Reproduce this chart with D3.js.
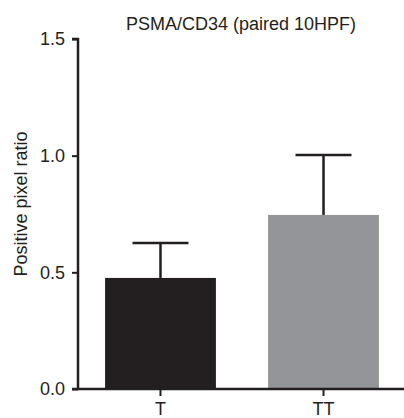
<!DOCTYPE html>
<html>
<head>
<meta charset="utf-8">
<script src="https://cdn.jsdelivr.net/npm/d3@7"></script>
<style>
  body { margin: 0; background: #fff; }
  svg { display: block; font-family: "Liberation Sans", Arial, sans-serif; }
</style>
</head>
<body>
<svg width="404" height="418"></svg>
<script>
const groups = ['T', 'TT'];
const means = [0.476, 0.746];
const errors = [0.150, 0.257];
const barColors = ['#231f20', '#939598'];
const yTicks = [0.0, 0.5, 1.0, 1.5];

const svg = d3.select('svg');
const ink = '#231f20';
const fs = 18;

// plot area: y axis at x=78, 0.0 at y=389, 1.5 at y=39
const x = d3.scaleBand().domain(groups).range([78, 406]).paddingInner(0.32).paddingOuter(0.166);
const y = d3.scaleLinear().domain([0, 1.5]).range([389, 39]);

const g = svg.append('g');

// bars
g.selectAll('.bar')
  .data(groups)
  .enter()
  .append('rect')
  .classed('bar', true)
  .attr('x', d => x(d))
  .attr('width', x.bandwidth())
  .attr('y', (d, i) => y(means[i]))
  .attr('height', (d, i) => y(0) - y(means[i]))
  .attr('fill', (d, i) => barColors[i]);

// error bars (upper only)
const capW = 56;
g.selectAll('.err')
  .data(groups)
  .enter()
  .append('line')
  .attr('x1', d => x(d) + x.bandwidth() / 2)
  .attr('x2', d => x(d) + x.bandwidth() / 2)
  .attr('y1', (d, i) => y(means[i]))
  .attr('y2', (d, i) => y(means[i] + errors[i]))
  .attr('stroke', ink)
  .attr('stroke-width', 2.5);

g.selectAll('.cap')
  .data(groups)
  .enter()
  .append('line')
  .attr('x1', d => x(d) + x.bandwidth() / 2 - capW / 2)
  .attr('x2', d => x(d) + x.bandwidth() / 2 + capW / 2)
  .attr('y1', (d, i) => y(means[i] + errors[i]))
  .attr('y2', (d, i) => y(means[i] + errors[i]))
  .attr('stroke', ink)
  .attr('stroke-width', 2.5);

// y axis
const yAxis = svg.append('g')
  .attr('transform', 'translate(78,0)')
  .call(d3.axisLeft(y).tickValues(yTicks).tickFormat(d3.format('.1f')).tickSize(6).tickPadding(7));
yAxis.select('.domain').attr('stroke', ink).attr('stroke-width', 2.5).attr('d', 'M-6,39H0V389');
yAxis.selectAll('.tick line').attr('stroke', ink).attr('stroke-width', 2);
yAxis.selectAll('.tick text').attr('fill', ink).attr('font-size', fs).attr('font-family', '"Liberation Sans", Arial, sans-serif');

// x axis
const xAxis = svg.append('g')
  .attr('transform', 'translate(0,389)')
  .call(d3.axisBottom(x).tickSize(7).tickPadding(6));
xAxis.select('.domain').attr('stroke', ink).attr('stroke-width', 2.5).attr('d', 'M72,0H404');
xAxis.selectAll('.tick line').attr('stroke', ink).attr('stroke-width', 2);
xAxis.selectAll('.tick text').attr('fill', ink).attr('font-size', fs).attr('font-family', '"Liberation Sans", Arial, sans-serif');

// title
svg.append('text')
  .attr('x', 241)
  .attr('y', 30)
  .attr('text-anchor', 'middle')
  .attr('font-size', 18)
  .attr('fill', ink)
  .text('PSMA/CD34 (paired 10HPF)');

// y label
svg.append('text')
  .attr('transform', 'translate(27,204) rotate(-90)')
  .attr('text-anchor', 'middle')
  .attr('font-size', fs)
  .attr('fill', ink)
  .text('Positive pixel ratio');
</script>
</body>
</html>
